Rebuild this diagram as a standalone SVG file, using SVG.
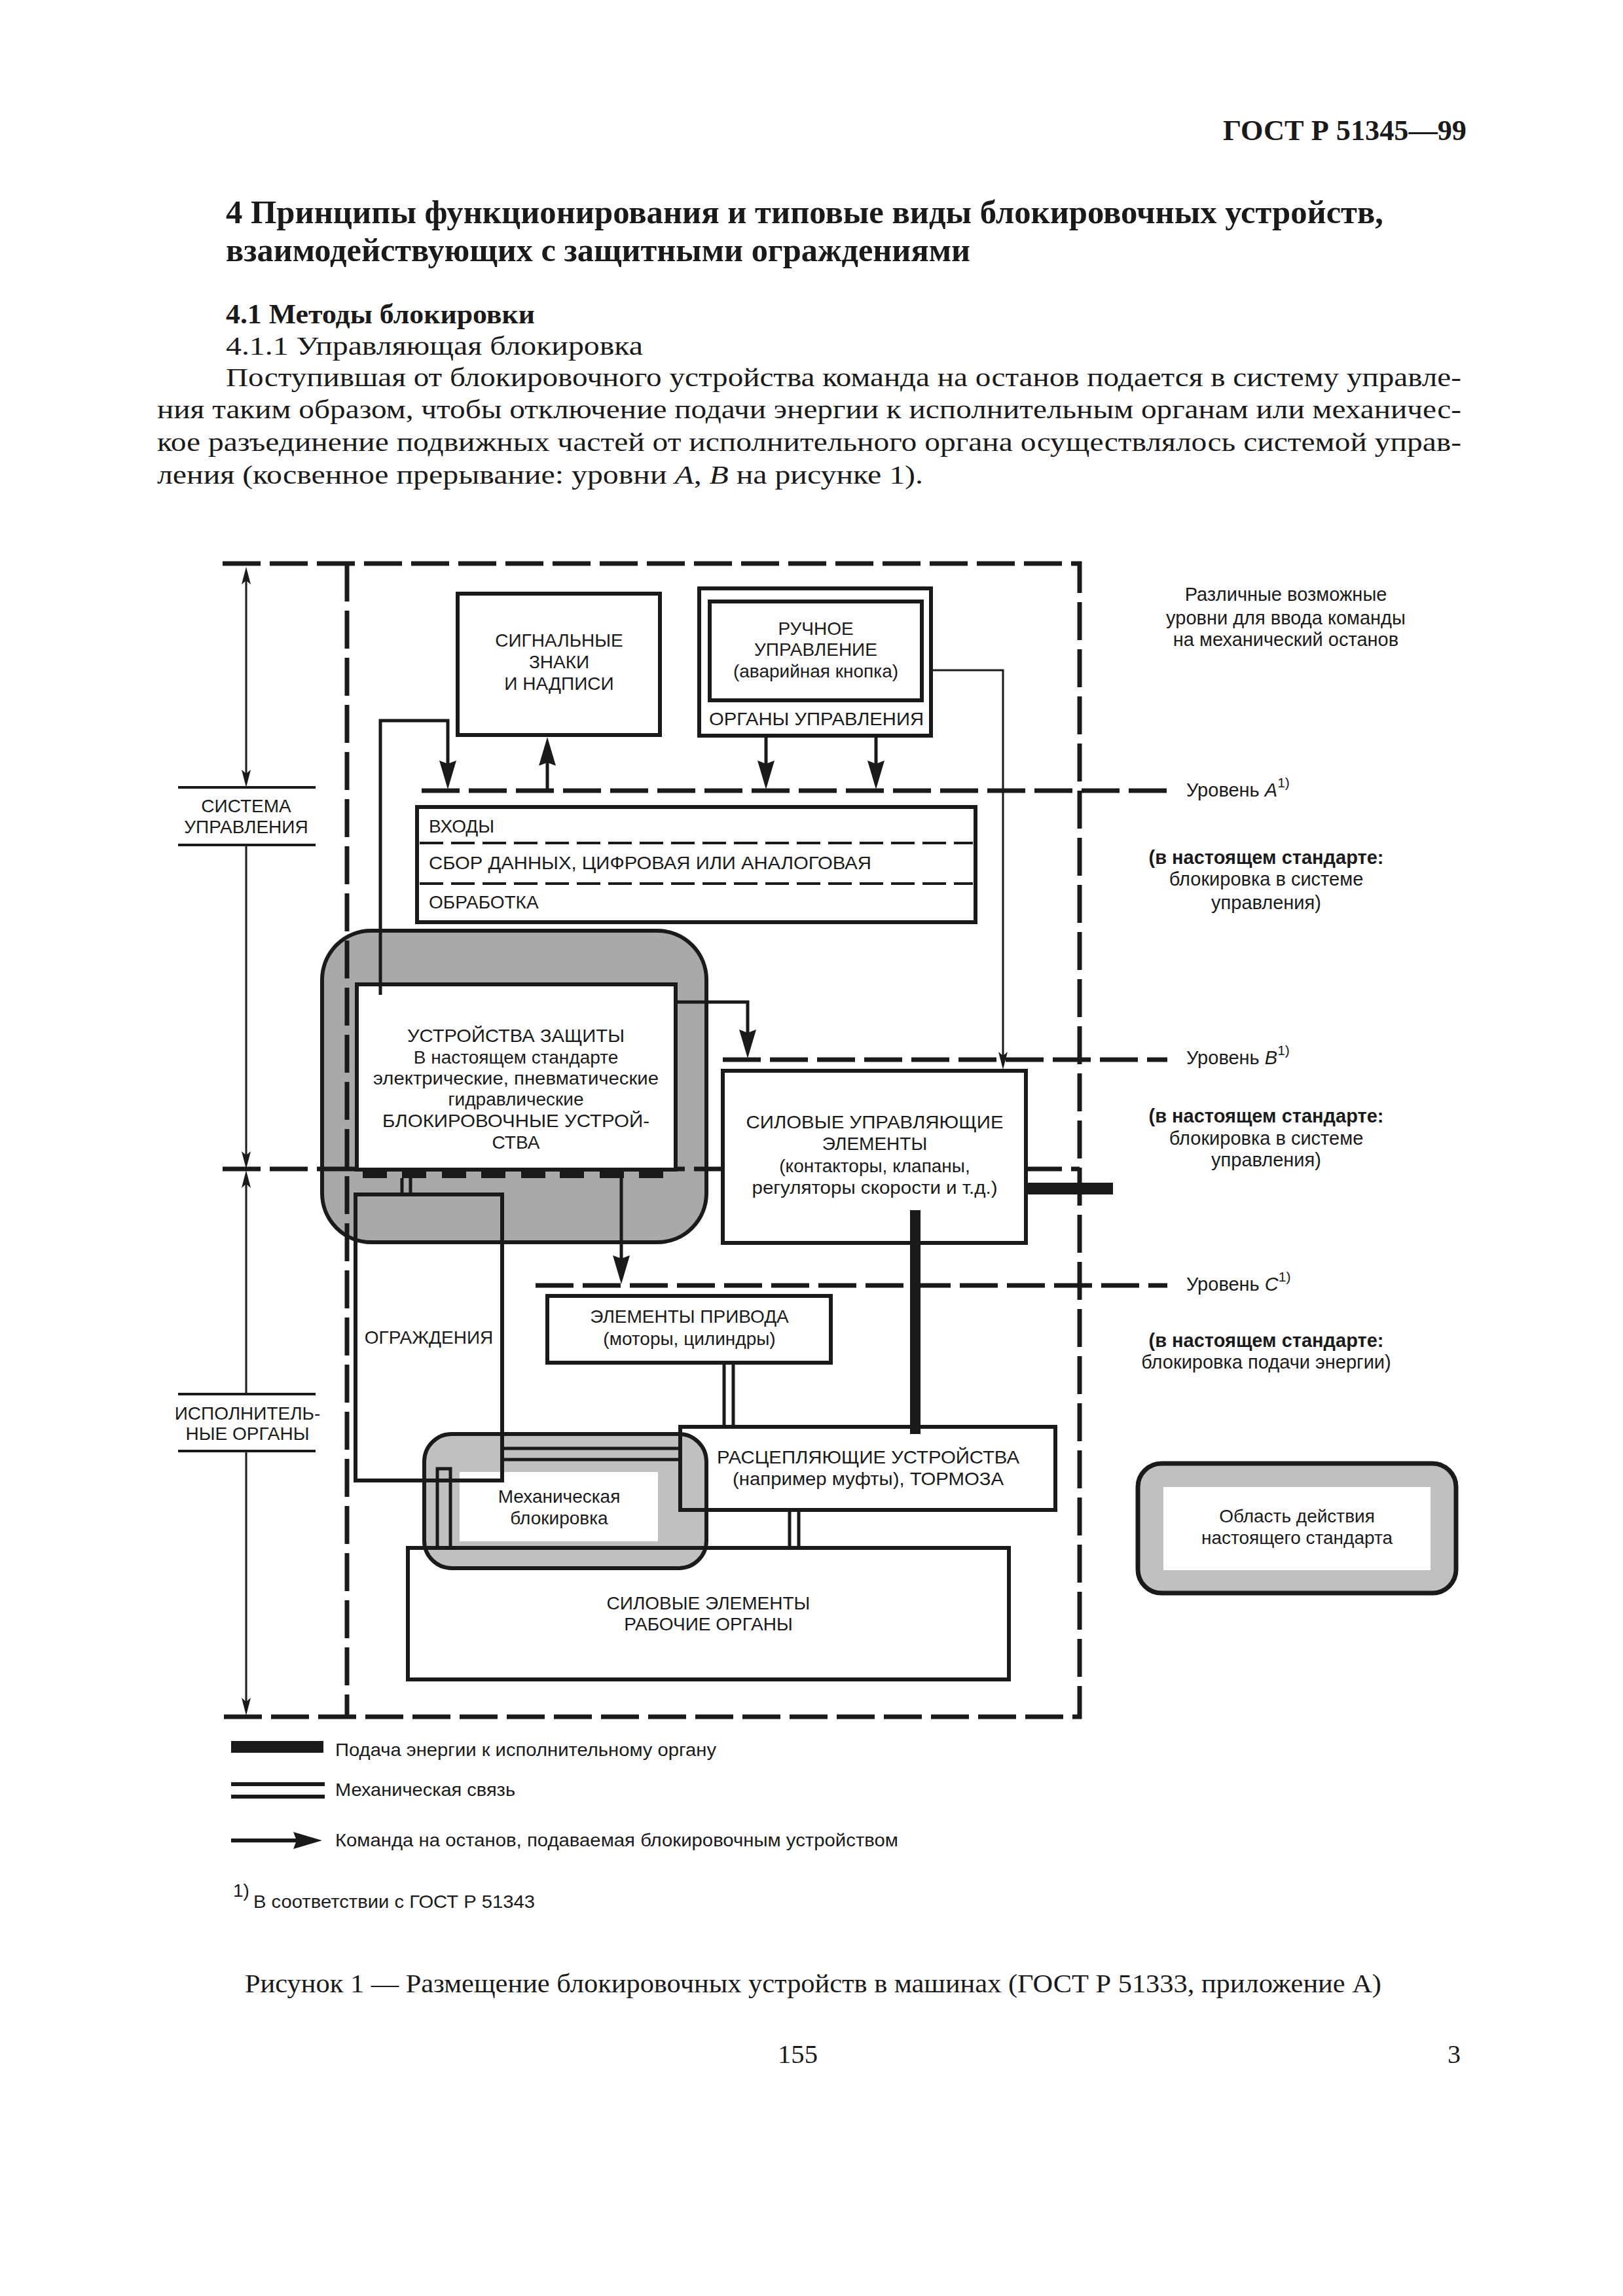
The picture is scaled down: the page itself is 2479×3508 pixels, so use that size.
<svg xmlns="http://www.w3.org/2000/svg" width="2479" height="3508" viewBox="0 0 2479 3508">
<defs>
<style>
.box{fill:#fff;stroke:#1a1a1a;stroke-width:6}
.ol{fill:none;stroke:#1a1a1a;stroke-width:6}
.dash{fill:none;stroke:#1a1a1a;stroke-width:7;stroke-dasharray:58 14}
.sep{fill:none;stroke:#1a1a1a;stroke-width:4;stroke-dasharray:36 12}
.cmd{fill:none;stroke:#1a1a1a;stroke-width:5;marker-end:url(#ah)}
.thin{fill:none;stroke:#1a1a1a;stroke-width:3}
.mech{fill:none;stroke:#1a1a1a;stroke-width:5}
.lbl{fill:none;stroke:#1a1a1a;stroke-width:4}
.blk{fill:#1a1a1a}
.t{font-family:"Liberation Sans",Arial,sans-serif;font-size:28px;fill:#1a1a1a}
.r{font-size:29px}
.b{font-weight:bold}
.c{text-anchor:middle}
.s{font-family:"Liberation Serif","Times New Roman",serif;fill:#1a1a1a}
</style>
<marker id="ah" viewBox="0 0 44 26" refX="34" refY="13" markerWidth="44" markerHeight="26" markerUnits="userSpaceOnUse" orient="auto"><path d="M0,0 L44,13 L0,26 L5,13 z" fill="#1a1a1a"/></marker>
<marker id="ta" viewBox="0 0 27 14" refX="20" refY="7" markerWidth="27" markerHeight="14" markerUnits="userSpaceOnUse" orient="auto-start-reverse"><path d="M0,0 L27,7 L0,14 L6,7 z" fill="#1a1a1a"/></marker>
</defs>
<rect width="2479" height="3508" fill="#fff"/>

<!-- page text -->
<g id="page-text">
<text class="s" x="1868" y="214" font-size="44" font-weight="bold" textLength="372" lengthAdjust="spacingAndGlyphs">ГОСТ Р 51345—99</text>
<text class="s" x="345" y="341" font-size="50" font-weight="bold" textLength="1768" lengthAdjust="spacingAndGlyphs">4  Принципы функционирования и типовые виды блокировочных устройств,</text>
<text class="s" x="345" y="399" font-size="50" font-weight="bold" textLength="1137" lengthAdjust="spacingAndGlyphs">взаимодействующих с защитными ограждениями</text>
<text class="s" x="345" y="494" font-size="42" font-weight="bold" textLength="472" lengthAdjust="spacingAndGlyphs">4.1  Методы блокировки</text>
<text class="s" x="345" y="542" font-size="41" textLength="637" lengthAdjust="spacingAndGlyphs">4.1.1  Управляющая блокировка</text>
<text class="s" x="345" y="590" font-size="41" textLength="1887" lengthAdjust="spacingAndGlyphs">Поступившая от блокировочного устройства команда на останов подается в систему управле-</text>
<text class="s" x="240" y="639" font-size="41" textLength="1992" lengthAdjust="spacingAndGlyphs">ния таким образом, чтобы отключение подачи энергии к исполнительным органам или механичес-</text>
<text class="s" x="240" y="689" font-size="41" textLength="1992" lengthAdjust="spacingAndGlyphs">кое разъединение подвижных частей от исполнительного органа осуществлялось системой управ-</text>
<text class="s" x="240" y="739" font-size="41" textLength="1170" lengthAdjust="spacingAndGlyphs">ления (косвенное прерывание: уровни <tspan font-style="italic">A</tspan>, <tspan font-style="italic">B</tspan> на рисунке 1).</text>
</g>

<!-- big gray scope area -->
<g id="scope-protective">
<rect x="492" y="1422" width="587" height="476" rx="75" ry="75" fill="#a9a9a9" stroke="#1a1a1a" stroke-width="6"/>
</g>

<!-- frame and level lines -->
<g id="frame">
<path class="dash" d="M340,861 H1649 V2623 H340"/>
<path class="dash" d="M530,861 V2623"/>
<path class="dash" d="M340,1786 H1649"/>
<path class="dash" d="M644,1208 H1783"/>
<path class="dash" d="M1104,1619 H1783"/>
<path class="dash" d="M818,1964 H1783"/>
</g>

<!-- left dimension labels -->
<g id="dim-lines">
<path class="thin" d="M376,873 V1196" marker-start="url(#ta)" marker-end="url(#ta)"/>
<path class="thin" d="M376,1291 V1779" marker-end="url(#ta)"/>
<path class="thin" d="M376,2130 V1795" marker-end="url(#ta)"/>
<path class="thin" d="M376,2217 V2614" marker-end="url(#ta)"/>
</g>
<g id="label-control">
<path class="lbl" d="M272,1203 H482 M272,1291 H482"/>
<text class="t c" x="376" y="1241">СИСТЕМА</text>
<text class="t c" x="376" y="1273">УПРАВЛЕНИЯ</text>
</g>
<g id="label-actuators">
<path class="lbl" d="M272,2130 H482 M272,2217 H482"/>
<text class="t c" x="378" y="2169">ИСПОЛНИТЕЛЬ-</text>
<text class="t c" x="378" y="2200">НЫЕ ОРГАНЫ</text>
</g>

<g id="node-signals">
<rect class="box" x="699" y="907" width="309" height="216"/>
<text class="t c" x="854" y="988">СИГНАЛЬНЫЕ</text>
<text class="t c" x="854" y="1021">ЗНАКИ</text>
<text class="t c" x="854" y="1054">И НАДПИСИ</text>
</g>

<g id="node-controls">
<rect class="box" x="1068" y="899" width="354" height="225" stroke-width="7"/>
<rect class="box" x="1084" y="919" width="324" height="151" stroke-width="8"/>
<text class="t c" x="1246" y="970">РУЧНОЕ</text>
<text class="t c" x="1246" y="1002">УПРАВЛЕНИЕ</text>
<text class="t c" x="1246" y="1035">(аварийная кнопка)</text>
<text class="t c" x="1247" y="1108" textLength="328" lengthAdjust="spacingAndGlyphs">ОРГАНЫ УПРАВЛЕНИЯ</text>
</g>

<g id="node-inputs">
<rect class="box" x="637" y="1233" width="853" height="176"/>
<path class="sep" d="M641,1288 H1486 M641,1350 H1486"/>
<text class="t" x="655" y="1272">ВХОДЫ</text>
<text class="t" x="655" y="1328" textLength="676" lengthAdjust="spacingAndGlyphs">СБОР ДАННЫХ, ЦИФРОВАЯ ИЛИ АНАЛОГОВАЯ</text>
<text class="t" x="655" y="1388">ОБРАБОТКА</text>
</g>

<g id="node-protective">
<rect class="box" x="545" y="1504" width="487" height="283"/>
<text class="t c" x="788" y="1592" textLength="332" lengthAdjust="spacingAndGlyphs">УСТРОЙСТВА ЗАЩИТЫ</text>
<text class="t c" x="788" y="1625">В настоящем стандарте</text>
<text class="t c" x="788" y="1657" textLength="436" lengthAdjust="spacingAndGlyphs">электрические, пневматические</text>
<text class="t c" x="788" y="1689">гидравлические</text>
<text class="t c" x="788" y="1722" textLength="408" lengthAdjust="spacingAndGlyphs">БЛОКИРОВОЧНЫЕ УСТРОЙ-</text>
<text class="t c" x="788" y="1755">СТВА</text>
<g id="contacts">
<rect class="blk" x="554" y="1787" width="37" height="13"/>
<rect class="blk" x="614" y="1787" width="37" height="13"/>
<rect class="blk" x="675" y="1787" width="37" height="13"/>
<rect class="blk" x="735" y="1787" width="37" height="13"/>
<rect class="blk" x="796" y="1787" width="37" height="13"/>
<rect class="blk" x="855" y="1787" width="37" height="13"/>
<rect class="blk" x="916" y="1787" width="37" height="13"/>
<rect class="blk" x="976" y="1787" width="37" height="13"/>
</g>
</g>

<g id="node-power-control">
<rect class="box" x="1104" y="1636" width="463" height="263"/>
<text class="t c" x="1336" y="1724" textLength="393" lengthAdjust="spacingAndGlyphs">СИЛОВЫЕ УПРАВЛЯЮЩИЕ</text>
<text class="t c" x="1336" y="1757">ЭЛЕМЕНТЫ</text>
<text class="t c" x="1336" y="1791">(контакторы, клапаны,</text>
<text class="t c" x="1336" y="1824" textLength="375" lengthAdjust="spacingAndGlyphs">регуляторы скорости и т.д.)</text>
</g>

<g id="node-guards">
<rect class="ol" x="543" y="1825" width="224" height="437"/>
<text class="t c" x="655" y="2053">ОГРАЖДЕНИЯ</text>
</g>

<g id="node-drive">
<rect class="box" x="836" y="1980" width="433" height="102"/>
<text class="t c" x="1053" y="2021">ЭЛЕМЕНТЫ ПРИВОДА</text>
<text class="t c" x="1053" y="2055">(моторы, цилиндры)</text>
</g>

<g id="node-actuators">
<rect class="box" x="623" y="2365" width="918" height="201"/>
<text class="t c" x="1082" y="2459">СИЛОВЫЕ ЭЛЕМЕНТЫ</text>
<text class="t c" x="1082" y="2491">РАБОЧИЕ ОРГАНЫ</text>
</g>

<g id="node-decoupling">
<rect class="box" x="1039" y="2180" width="573" height="127"/>
<text class="t c" x="1326" y="2236" textLength="462" lengthAdjust="spacingAndGlyphs">РАСЦЕПЛЯЮЩИЕ УСТРОЙСТВА</text>
<text class="t c" x="1326" y="2269" textLength="414" lengthAdjust="spacingAndGlyphs">(например муфты), ТОРМОЗА</text>
</g>

<g id="node-mech-interlock">
<rect x="648" y="2191" width="431" height="205" rx="42" ry="42" fill="#c0c0c0" stroke="#1a1a1a" stroke-width="6"/>
<rect x="702" y="2249" width="303" height="106" fill="#fff"/>
<text class="t c" x="854" y="2296">Механическая</text>
<text class="t c" x="854" y="2329">блокировка</text>
</g>

<g id="overlay-outlines">
<rect class="ol" x="1039" y="2180" width="573" height="127"/>
<path class="ol" d="M543,2262 H767 V2180"/>
<path class="ol" d="M623,2365 H1079"/>
</g>

<!-- connectors -->
<g id="connectors">
<path class="cmd" d="M1170,1127 V1196"/>
<path class="cmd" d="M1338,1127 V1196"/>
<path class="cmd" d="M836,1206 V1136"/>
<path class="cmd" d="M581,1520 V1101 H684 V1196"/>
<path class="cmd" d="M1032,1531 H1142 V1607"/>
<path class="cmd" d="M949,1800 V1952"/>
<path class="thin" d="M1423,1024 H1532 V1627" marker-end="url(#ta)"/>
<path class="mech" d="M614,1800 V1825 M627,1800 V1825"/>
<path class="mech" d="M1106,2082 V2180 M1120,2082 V2180"/>
<path class="mech" d="M1206,2307 V2365 M1220,2307 V2365"/>
<path class="mech" d="M767,2213 H1039 M767,2230 H1039"/>
<path class="mech" d="M668,2365 V2244 H688 V2365"/>
<rect class="blk" x="1390" y="1849" width="16" height="342"/>
<rect class="blk" x="1567" y="1807" width="133" height="18"/>
</g>

<!-- right side notes -->
<g id="levels-text">
<text class="t r c" x="1964" y="918">Различные возможные</text>
<text class="t r c" x="1964" y="954">уровни для ввода команды</text>
<text class="t r c" x="1964" y="987">на механический останов</text>
<text class="t r" x="1812" y="1217">Уровень <tspan font-style="italic">A</tspan><tspan font-size="21" dy="-14">1)</tspan></text>
<text class="t r c b" x="1934" y="1320">(в настоящем стандарте:</text>
<text class="t r c" x="1934" y="1353">блокировка в системе</text>
<text class="t r c" x="1934" y="1389">управления)</text>
<text class="t r" x="1812" y="1626">Уровень <tspan font-style="italic">B</tspan><tspan font-size="21" dy="-14">1)</tspan></text>
<text class="t r c b" x="1934" y="1715">(в настоящем стандарте:</text>
<text class="t r c" x="1934" y="1749">блокировка в системе</text>
<text class="t r c" x="1934" y="1782">управления)</text>
<text class="t r" x="1812" y="1972">Уровень <tspan font-style="italic">C</tspan><tspan font-size="21" dy="-14">1)</tspan></text>
<text class="t r c b" x="1934" y="2058">(в настоящем стандарте:</text>
<text class="t r c" x="1934" y="2091">блокировка подачи энергии)</text>
</g>

<g id="node-scope-legend">
<rect x="1738" y="2236" width="486" height="198" rx="36" ry="36" fill="#c0c0c0" stroke="#1a1a1a" stroke-width="7"/>
<rect x="1777" y="2272" width="408" height="127" fill="#fff"/>
<text class="t c" x="1981" y="2326">Область действия</text>
<text class="t c" x="1981" y="2359">настоящего стандарта</text>
</g>

<!-- legend -->
<g id="legend">
<rect class="blk" x="353" y="2660" width="141" height="18"/>
<text class="t" x="512" y="2683" font-size="27" textLength="582" lengthAdjust="spacingAndGlyphs">Подача энергии к исполнительному органу</text>
<path d="M353,2726 H496 M353,2745 H496" stroke="#1a1a1a" stroke-width="6" fill="none"/>
<text class="t" x="512" y="2744" font-size="27" textLength="275" lengthAdjust="spacingAndGlyphs">Механическая связь</text>
<path d="M353,2812 H482" stroke="#1a1a1a" stroke-width="6" fill="none" marker-end="url(#ah)"/>
<text class="t" x="512" y="2821" font-size="27" textLength="860" lengthAdjust="spacingAndGlyphs">Команда на останов, подаваемая блокировочным устройством</text>
<text class="t" x="356" y="2898" font-size="22">1)</text>
<text class="t" x="387" y="2915" font-size="27" textLength="430" lengthAdjust="spacingAndGlyphs">В соответствии с ГОСТ Р 51343</text>
</g>

<g id="caption">
<text class="s" x="374" y="3044" font-size="40" textLength="1736" lengthAdjust="spacingAndGlyphs">Рисунок 1 — Размещение блокировочных устройств в машинах (ГОСТ Р 51333, приложение А)</text>
<text class="s" x="1188" y="3152" font-size="40" textLength="61" lengthAdjust="spacingAndGlyphs">155</text>
<text class="s" x="2211" y="3152" font-size="40">3</text>
</g>
</svg>
